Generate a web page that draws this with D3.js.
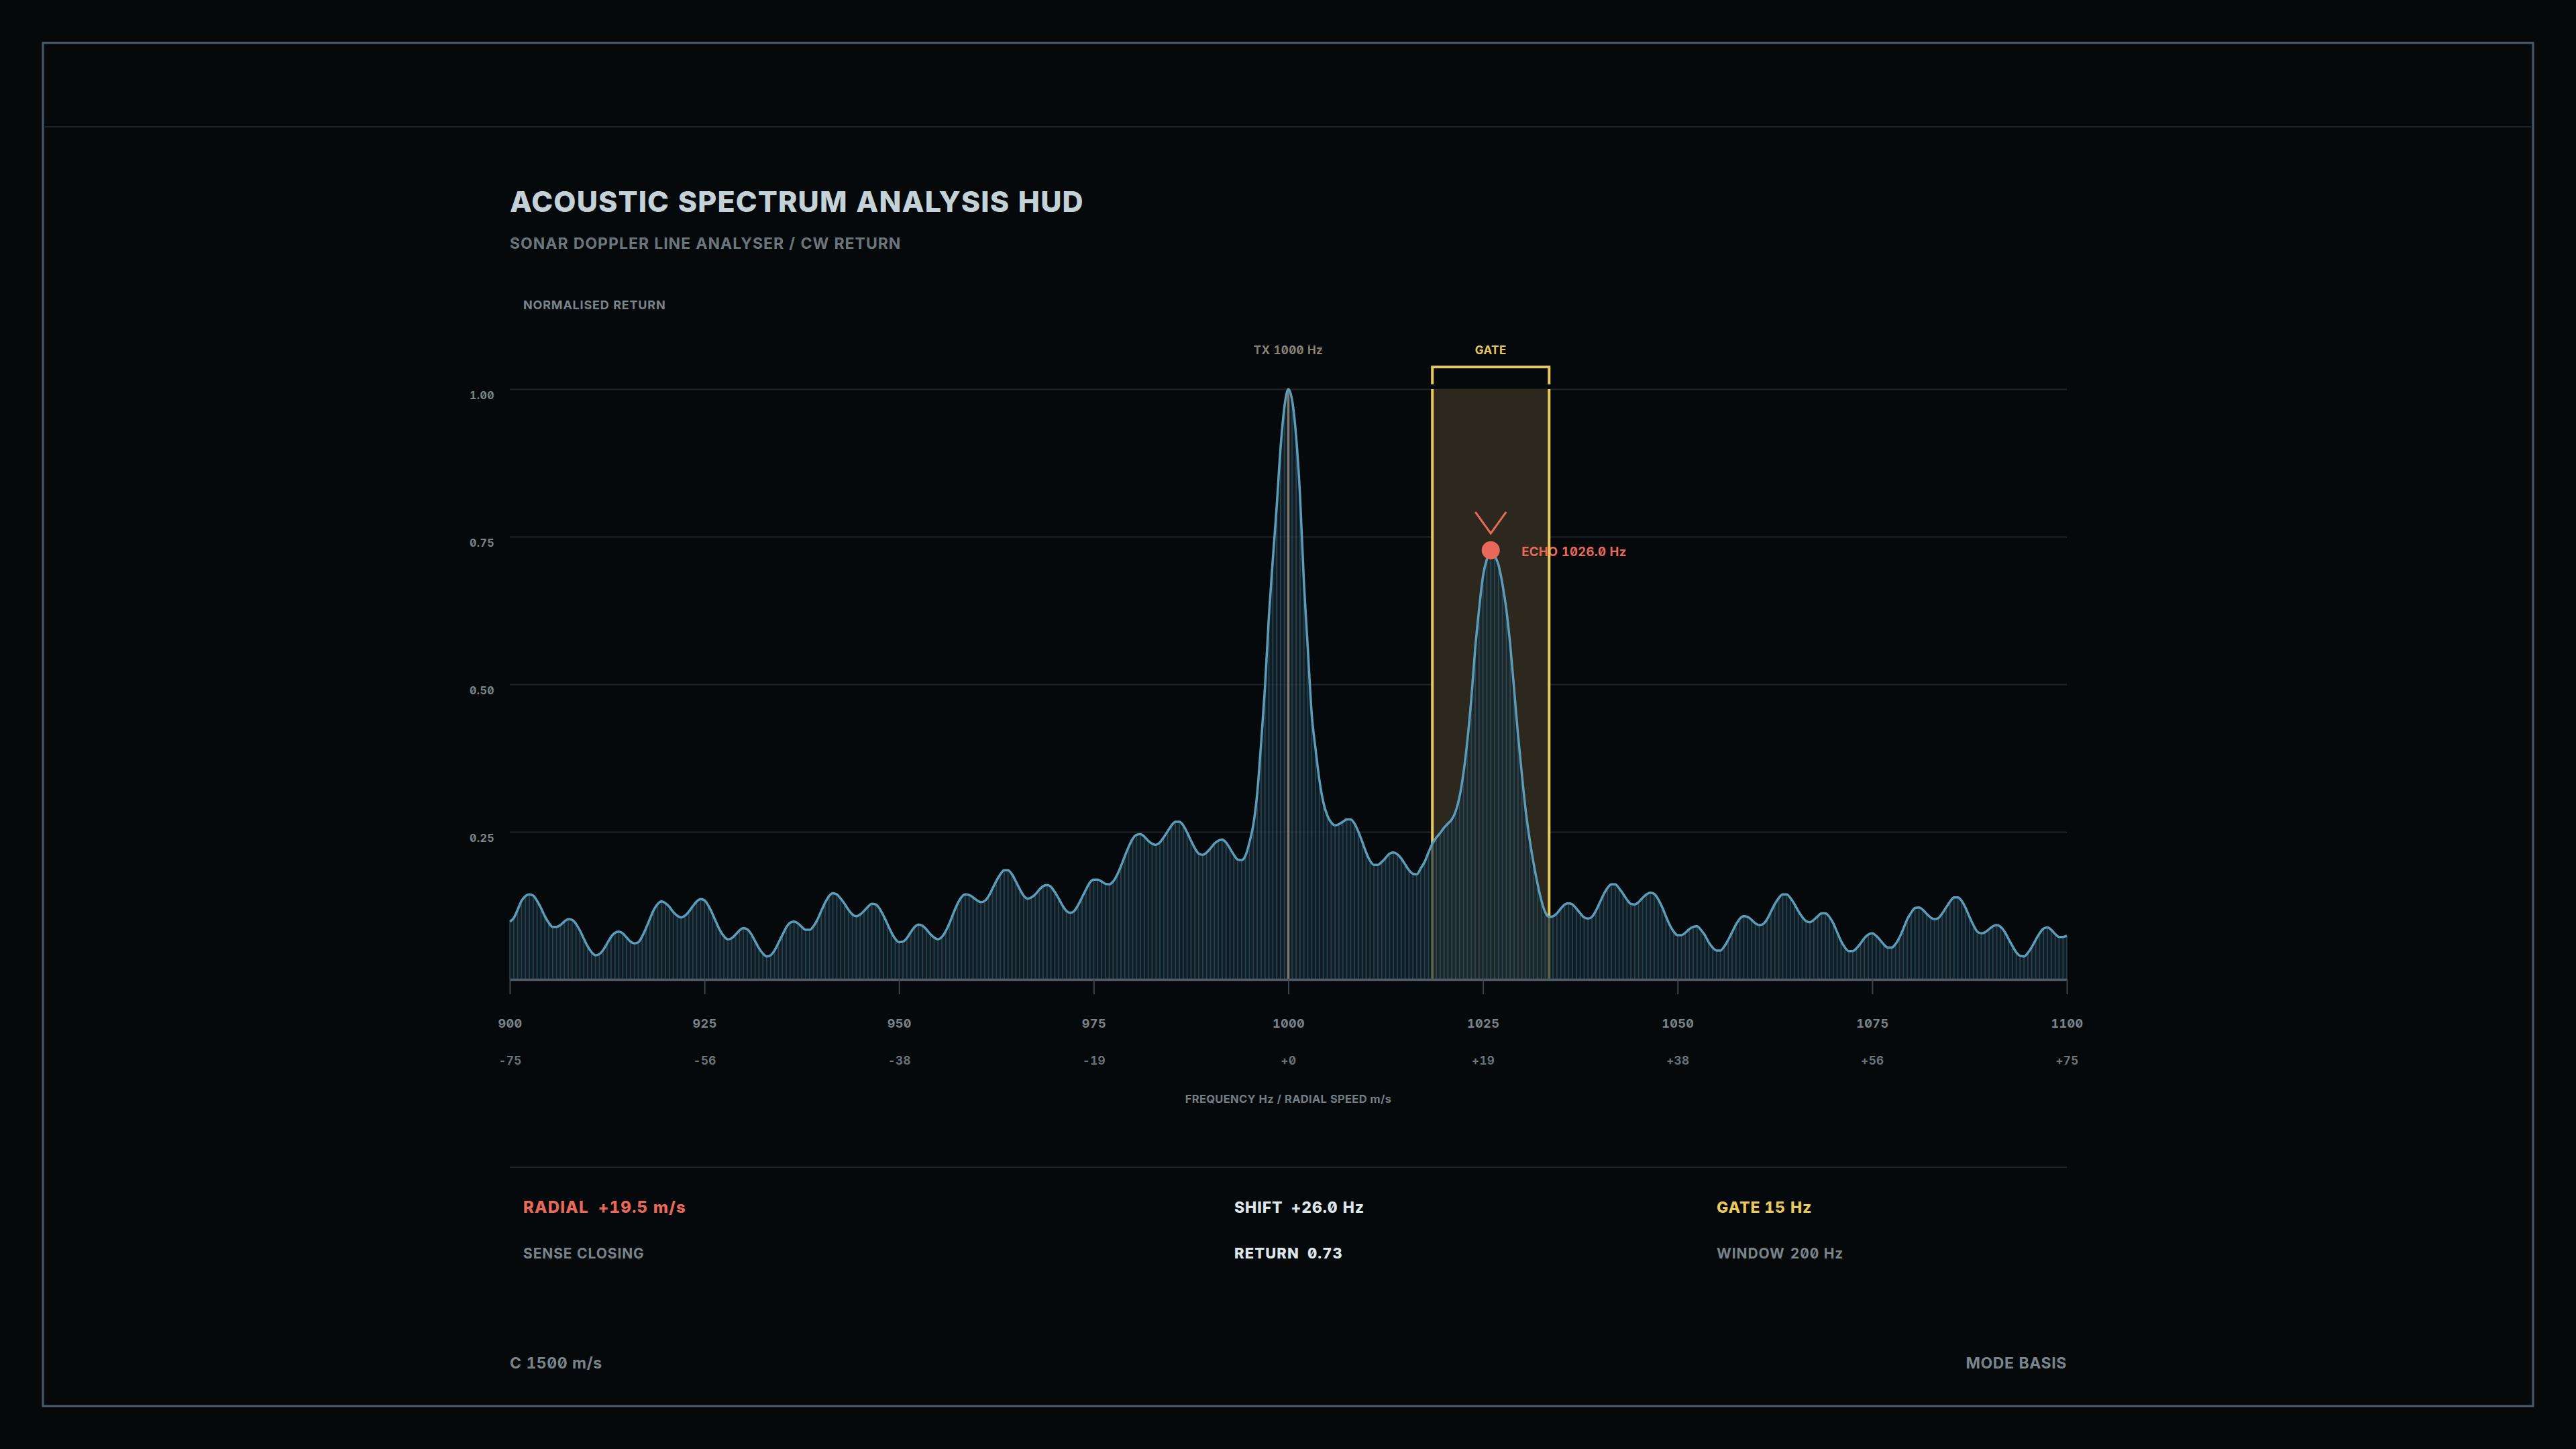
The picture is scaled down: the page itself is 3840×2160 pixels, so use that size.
<!DOCTYPE html>
<html>
<head>
<meta charset="utf-8">
<script src="https://cdn.jsdelivr.net/npm/d3@7"></script>
<style>
  html, body { margin: 0; padding: 0; background: #06090c; }
  svg { display: block; }
  text { font-family: Inter, "Noto Sans", sans-serif; font-feature-settings: "zero" 1, "tnum" 1; }
</style>
</head>
<body>
<svg id="hud" width="3840" height="2160"></svg>
<script>
// spectrum samples, one every 0.5 Hz from 900 Hz to 1100 Hz
const FREQ_START = 900;
const FREQ_STEP = 0.5;
const returnValues = [
  0.098,0.104,0.118,0.133,0.141,0.144,0.142,0.133,0.121,0.107,0.096,0.089,0.089,0.092,0.098,0.102,0.101,0.094,0.083,0.069,
  0.056,0.046,0.041,0.043,0.050,0.061,0.072,0.079,0.081,0.078,0.071,0.064,0.061,0.063,0.073,0.087,0.103,0.118,0.128,0.132,
  0.129,0.123,0.114,0.108,0.105,0.108,0.115,0.124,0.132,0.136,0.134,0.125,0.112,0.097,0.083,0.073,0.068,0.070,0.076,0.083,
  0.087,0.085,0.077,0.065,0.053,0.044,0.039,0.041,0.049,0.062,0.075,0.088,0.096,0.098,0.095,0.089,0.084,0.084,0.090,0.101,
  0.116,0.130,0.141,0.146,0.144,0.137,0.128,0.118,0.110,0.107,0.110,0.116,0.123,0.128,0.127,0.120,0.108,0.094,0.080,0.069,
  0.063,0.064,0.070,0.080,0.089,0.093,0.091,0.085,0.077,0.071,0.068,0.072,0.082,0.096,0.113,0.128,0.139,0.144,0.143,0.139,
  0.134,0.131,0.133,0.141,0.154,0.167,0.178,0.185,0.185,0.178,0.166,0.153,0.142,0.137,0.139,0.144,0.152,0.158,0.160,0.157,
  0.148,0.137,0.125,0.116,0.113,0.116,0.126,0.139,0.152,0.164,0.169,0.169,0.166,0.162,0.161,0.166,0.177,0.192,0.209,0.225,
  0.238,0.245,0.246,0.242,0.235,0.230,0.228,0.232,0.241,0.251,0.261,0.267,0.267,0.261,0.249,0.235,0.222,0.213,0.211,0.215,
  0.222,0.230,0.235,0.237,0.232,0.222,0.211,0.203,0.202,0.210,0.232,0.262,0.315,0.400,0.495,0.615,0.710,0.800,0.900,0.970,
  1.000,0.980,0.920,0.820,0.673,0.561,0.450,0.390,0.337,0.300,0.278,0.266,0.261,0.263,0.267,0.271,0.271,0.264,0.250,0.233,
  0.215,0.201,0.194,0.194,0.199,0.206,0.213,0.215,0.212,0.205,0.195,0.185,0.179,0.178,0.188,0.199,0.215,0.230,0.240,0.248,
  0.257,0.264,0.271,0.285,0.310,0.350,0.405,0.475,0.560,0.627,0.683,0.712,0.727,0.718,0.702,0.670,0.627,0.567,0.492,0.415,
  0.347,0.285,0.237,0.197,0.163,0.134,0.114,0.106,0.107,0.112,0.120,0.127,0.129,0.127,0.120,0.112,0.105,0.103,0.106,0.116,
  0.130,0.144,0.155,0.161,0.161,0.154,0.145,0.135,0.128,0.127,0.131,0.138,0.144,0.147,0.145,0.136,0.123,0.107,0.092,0.081,
  0.075,0.075,0.079,0.085,0.089,0.090,0.084,0.075,0.063,0.054,0.049,0.049,0.056,0.067,0.080,0.093,0.103,0.107,0.106,0.101,
  0.095,0.092,0.094,0.102,0.115,0.128,0.138,0.144,0.144,0.138,0.128,0.116,0.106,0.099,0.097,0.101,0.107,0.112,0.112,0.106,
  0.095,0.080,0.065,0.054,0.048,0.048,0.053,0.061,0.070,0.076,0.078,0.074,0.067,0.059,0.054,0.054,0.060,0.071,0.086,0.102,
  0.113,0.121,0.122,0.118,0.111,0.105,0.102,0.104,0.112,0.122,0.132,0.139,0.139,0.133,0.121,0.106,0.092,0.081,0.078,0.080,
  0.085,0.090,0.092,0.089,0.081,0.069,0.057,0.046,0.040,0.039,0.045,0.055,0.067,0.078,0.086,0.088,0.084,0.077,0.072,0.072,
  0.074
];

const freqTicks = [900, 925, 950, 975, 1000, 1025, 1050, 1075, 1100];
const speedLabels = ["-75", "-56", "-38", "-19", "+0", "+19", "+38", "+56", "+75"];
const returnTicks = [0.25, 0.50, 0.75, 1.00];

const txFreq = 1000;
const gateRange = [1018.5, 1033.5];
const echoFreq = 1026.0;
const echoReturn = 0.727;

// readout texts
const statLeft = [["RADIAL", "+19.5 m/s"], ["SENSE CLOSING", ""]];
const statMid = [["SHIFT", "+26.0 Hz"], ["RETURN", "0.73"]];
const statRight = [["GATE", "15 Hz"], ["WINDOW", "200 Hz"]];

const svg = d3.select("#hud");

const x = d3.scaleLinear().domain([900, 1100]).range([760, 3081]);
const y = d3.scaleLinear().domain([0, 1]).range([1460, 580]);

const spectrum = returnValues.map(function(v, i) {
  return { f: FREQ_START + i * FREQ_STEP, v: v };
});

// outer frame + header rule
svg.append("rect")
  .attr("width", 3840).attr("height", 2160)
  .attr("fill", "#06090c");
svg.append("rect")
  .attr("x", 64).attr("y", 64)
  .attr("width", 3712).attr("height", 2032)
  .attr("fill", "none")
  .attr("stroke", "#4b5b66")
  .attr("stroke-width", 3);
svg.append("line")
  .attr("x1", 65).attr("x2", 3775)
  .attr("y1", 189).attr("y2", 189)
  .attr("stroke", "#1e262b")
  .attr("stroke-width", 2);

// titles
svg.append("text")
  .attr("x", 760).attr("y", 316)
  .attr("fill", "#c4d2d8")
  .style("font-size", "43px")
  .style("font-weight", 800)
  .style("letter-spacing", "1.1px")
  .text("ACOUSTIC SPECTRUM ANALYSIS HUD");
svg.append("text")
  .attr("x", 760).attr("y", 371)
  .attr("fill", "#6b767c")
  .style("font-size", "23px")
  .style("font-weight", 700)
  .style("letter-spacing", "1px")
  .text("SONAR DOPPLER LINE ANALYSER / CW RETURN");
svg.append("text")
  .attr("x", 780).attr("y", 461)
  .attr("fill", "#7a848a")
  .style("font-size", "18px")
  .style("font-weight", 700)
  .style("letter-spacing", "0.8px")
  .text("NORMALISED RETURN");

// gridlines
svg.append("g")
  .attr("transform", "translate(760,0)")
  .call(d3.axisRight(y).tickValues(returnTicks).tickSize(x.range()[1] - x.range()[0]).tickFormat(""))
  .call(function(g) { g.select(".domain").remove(); })
  .selectAll("line")
  .attr("stroke", "#1e262b")
  .attr("stroke-width", 2);

// y labels
svg.append("g")
  .attr("transform", "translate(760,0)")
  .call(d3.axisLeft(y).tickValues(returnTicks).tickSize(0).tickPadding(23).tickFormat(d3.format(".2f")))
  .call(function(g) { g.select(".domain").remove(); })
  .selectAll("text")
  .attr("dy", "0.88em")
  .attr("fill", "#7a848a")
  .style("font-family", "Inter, sans-serif")
  .style("font-size", "16px")
  .style("font-weight", 700)
  .style("letter-spacing", "0.4px");

// gate window: shading and edges sit under the spectrum
svg.append("rect")
  .attr("x", x(gateRange[0]))
  .attr("y", y(1))
  .attr("width", x(gateRange[1]) - x(gateRange[0]))
  .attr("height", y(0) - y(1))
  .attr("fill", "#2c281e");

// echo label goes under the gate edge
const ex = x(echoFreq), ey = y(echoReturn);
svg.append("text")
  .attr("x", ex + 46).attr("y", ey + 9)
  .attr("fill", "#e8695a")
  .style("font-size", "18.5px")
  .style("font-weight", 700)
  .style("letter-spacing", "0.3px")
  .text("ECHO 1026.0 Hz");

[gateRange[0], gateRange[1]].forEach(function(f) {
  svg.append("line")
    .attr("x1", x(f)).attr("x2", x(f))
    .attr("y1", y(1)).attr("y2", y(0))
    .attr("stroke", "#e8c85a")
    .attr("stroke-width", 4);
});
svg.append("path")
  .attr("d", d3.line()([[x(gateRange[0]), 573], [x(gateRange[0]), 547], [x(gateRange[1]), 547], [x(gateRange[1]), 573]]))
  .attr("fill", "none")
  .attr("stroke", "#e8c85a")
  .attr("stroke-width", 4);
svg.append("text")
  .attr("x", x((gateRange[0] + gateRange[1]) / 2)).attr("y", 528)
  .attr("text-anchor", "middle")
  .attr("fill", "#e6c85e")
  .style("font-size", "17px")
  .style("font-weight", 700)
  .style("letter-spacing", "0.5px")
  .text("GATE");

// area under the spectrum
svg.append("path")
  .datum(spectrum)
  .attr("fill", "rgba(22,40,49,0.68)")
  .attr("d", d3.area()
    .x(function(d) { return x(d.f); })
    .y0(y(0))
    .y1(function(d) { return y(d.v); })
    .curve(d3.curveMonotoneX));

// stems per bin
svg.append("g")
  .selectAll("line")
  .data(spectrum)
  .join("line")
  .attr("x1", function(d) { return x(d.f); })
  .attr("x2", function(d) { return x(d.f); })
  .attr("y1", y(0))
  .attr("y2", function(d) { return y(d.v); })
  .attr("stroke", "rgba(70,118,140,0.42)")
  .attr("stroke-width", 1.8);

// transmit line
svg.append("line")
  .attr("x1", x(txFreq)).attr("x2", x(txFreq))
  .attr("y1", y(0)).attr("y2", y(1))
  .attr("stroke", "#7c776f")
  .attr("stroke-width", 3.5);
svg.append("text")
  .attr("x", x(txFreq)).attr("y", 528)
  .attr("text-anchor", "middle")
  .attr("fill", "#8a8478")
  .style("font-size", "17px")
  .style("font-weight", 700)
  .style("letter-spacing", "0.4px")
  .text("TX 1000 Hz");

// spectrum line
svg.append("path")
  .datum(spectrum)
  .attr("fill", "none")
  .attr("stroke", "#5b9cb8")
  .attr("stroke-width", 3.5)
  .attr("stroke-linejoin", "round")
  .attr("d", d3.line()
    .x(function(d) { return x(d.f); })
    .y(function(d) { return y(d.v); })
    .curve(d3.curveMonotoneX));

// x axis with frequency + speed labels
const xAxis = svg.append("g")
  .attr("transform", "translate(0," + y(0) + ")")
  .call(d3.axisBottom(x).tickValues(freqTicks).tickSize(22).tickSizeOuter(0).tickPadding(37).tickFormat(d3.format("d")));
xAxis.select(".domain")
  .attr("stroke", "#4f5e68")
  .attr("stroke-width", 3.5);
xAxis.selectAll(".tick line")
  .attr("stroke", "#3a454c")
  .attr("stroke-width", 2);
xAxis.selectAll(".tick text")
  .attr("fill", "#7a848a")
  .style("font-family", "Inter, sans-serif")
  .style("font-size", "18px")
  .style("font-weight", 700)
  .style("letter-spacing", "0.4px");
xAxis.selectAll(".tick")
  .append("text")
  .attr("y", 127)
  .attr("text-anchor", "middle")
  .attr("fill", "#6a747a")
  .style("font-family", "Inter, sans-serif")
  .style("font-size", "17px")
  .style("font-weight", 700)
  .style("letter-spacing", "0.4px")
  .text(function(d, i) { return speedLabels[i]; });

svg.append("text")
  .attr("x", (x.range()[0] + x.range()[1]) / 2).attr("y", 1644)
  .attr("text-anchor", "middle")
  .attr("fill", "#737d83")
  .style("font-size", "16.5px")
  .style("font-weight", 700)
  .style("letter-spacing", "0.3px")
  .text("FREQUENCY Hz / RADIAL SPEED m/s");

// echo marker
svg.append("path")
  .attr("d", d3.line()([[ex - 23, ey - 57], [ex, ey - 25], [ex + 23, ey - 57]]))
  .attr("fill", "none")
  .attr("stroke", "#e8695a")
  .attr("stroke-width", 3);
svg.append("circle")
  .attr("cx", ex).attr("cy", ey)
  .attr("r", 13.5)
  .attr("fill", "#e8695a");

// readout panel
svg.append("line")
  .attr("x1", 760).attr("x2", 3081)
  .attr("y1", 1740).attr("y2", 1740)
  .attr("stroke", "#1e262b")
  .attr("stroke-width", 2);

// rows: [label, value]; opts per row: colour, size, weight, spacing, gap
function readout(xPos, rows, opts) {
  rows.forEach(function(r, i) {
    const o = opts[i];
    const t = svg.append("text")
      .attr("x", xPos)
      .attr("y", i === 0 ? 1808 : 1876)
      .attr("fill", o.color)
      .style("font-size", o.size + "px")
      .style("font-weight", o.weight)
      .style("letter-spacing", o.spacing + "px");
    t.append("tspan").text(r[0]);
    if (r[1]) t.append("tspan").attr("dx", o.gap).text(r[1]);
  });
}
readout(780, statLeft, [
  { color: "#e8695a", size: 24, weight: 800, spacing: 1.2, gap: 14 },
  { color: "#7a848a", size: 21, weight: 700, spacing: 0.9, gap: 0 }
]);
readout(1840, statMid, [
  { color: "#dde6ea", size: 23, weight: 800, spacing: 0.9, gap: 12 },
  { color: "#dde6ea", size: 22, weight: 800, spacing: 1.1, gap: 12 }
]);
readout(2559, statRight, [
  { color: "#e6c85e", size: 23, weight: 800, spacing: 0.9, gap: 6 },
  { color: "#7a848a", size: 21, weight: 700, spacing: 0.9, gap: 8 }
]);

// footer
svg.append("text")
  .attr("x", 760).attr("y", 2040)
  .attr("fill", "#7a848a")
  .style("font-size", "23px")
  .style("font-weight", 700)
  .style("letter-spacing", "0.6px")
  .text("C 1500 m/s");
svg.append("text")
  .attr("x", 3081).attr("y", 2040)
  .attr("text-anchor", "end")
  .attr("fill", "#7a848a")
  .style("font-size", "23px")
  .style("font-weight", 700)
  .style("letter-spacing", "0.6px")
  .text("MODE BASIS");
</script>
</body>
</html>
